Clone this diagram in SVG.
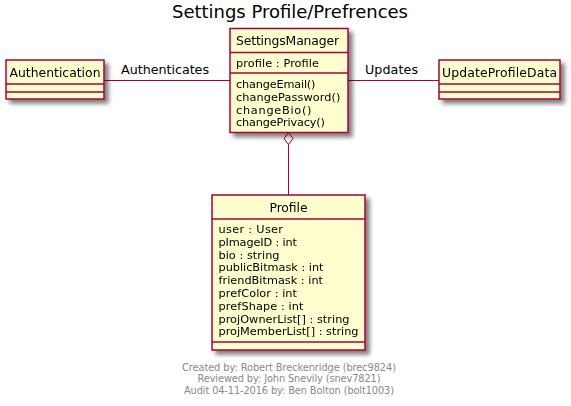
<svg xmlns="http://www.w3.org/2000/svg" width="571" height="406" viewBox="0 0 571 406">
<defs>
<filter id="sh" x="-10%" y="-10%" width="130%" height="130%">
<feGaussianBlur in="SourceAlpha" stdDeviation="2" result="b"/>
<feOffset in="b" dx="4" dy="4" result="o"/>
<feComponentTransfer in="o" result="c"><feFuncA type="linear" slope="0.5"/></feComponentTransfer>
<feMerge><feMergeNode in="c"/><feMergeNode in="SourceGraphic"/></feMerge>
</filter>
</defs>
<style>
.box{fill:#FEFECE;stroke:#A80036;stroke-width:1.5}
.sep{stroke:#A80036;stroke-width:1.5}
.edge{stroke:#A80036;stroke-width:1;fill:none}
text{font-family:"DejaVu Sans","Liberation Sans",sans-serif;fill:#000000}
.name{font-size:12.4px}
.attr{font-size:11.3px}
.lbl{font-size:12.7px}
.title{font-size:18px}
.foot{font-size:9.8px;fill:#888888}
</style>
<rect width="571" height="406" fill="#FFFFFF"/>
<text class="title" x="172" y="17.5" textLength="236" lengthAdjust="spacing">Settings Profile/Prefrences</text>

<g id="connectors">
<line class="edge" x1="104" y1="80.5" x2="230" y2="80.5"/>
<text class="lbl" x="121" y="73.5" textLength="88" lengthAdjust="spacing">Authenticates</text>
<line class="edge" x1="348" y1="80.5" x2="439" y2="80.5"/>
<text class="lbl" x="365" y="73.5" textLength="53" lengthAdjust="spacing">Updates</text>
<polygon class="edge" points="288.5,132.5 284,138.5 288.5,144.5 293,138.5" style="fill:#FFFFFF"/>
<line class="edge" x1="288.5" y1="144.5" x2="288.5" y2="195"/>
</g>

<g id="Authentication" filter="url(#sh)">
<rect class="box" x="6" y="60" width="98" height="39"/>
<line class="sep" x1="6" y1="84" x2="104" y2="84"/>
<line class="sep" x1="6" y1="92" x2="104" y2="92"/>
<text class="name" x="9.5" y="76.5" textLength="91" lengthAdjust="spacing">Authentication</text>
</g>

<g id="SettingsManager" filter="url(#sh)">
<rect class="box" x="230" y="28.5" width="118" height="104"/>
<line class="sep" x1="230" y1="52.5" x2="348" y2="52.5"/>
<line class="sep" x1="230" y1="73" x2="348" y2="73"/>
<text class="name" x="236" y="45" textLength="103" lengthAdjust="spacing">SettingsManager</text>
<text class="attr" x="236" y="66.5" textLength="83" lengthAdjust="spacing">profile : Profile</text>
<text class="attr" x="236" y="88" textLength="79.5" lengthAdjust="spacing">changeEmail()</text>
<text class="attr" x="236" y="100.8" textLength="104.5" lengthAdjust="spacing">changePassword()</text>
<text class="attr" x="236" y="113.6" textLength="75.5" lengthAdjust="spacing">changeBio()</text>
<text class="attr" x="236" y="126.4" textLength="89" lengthAdjust="spacing">changePrivacy()</text>
</g>

<g id="UpdateProfileData" filter="url(#sh)">
<rect class="box" x="439" y="60" width="121" height="39"/>
<line class="sep" x1="439" y1="84" x2="560" y2="84"/>
<line class="sep" x1="439" y1="92" x2="560" y2="92"/>
<text class="name" x="442" y="76.5" textLength="115" lengthAdjust="spacing">UpdateProfileData</text>
</g>

<g id="Profile" filter="url(#sh)">
<rect class="box" x="212" y="195" width="153" height="155"/>
<line class="sep" x1="212" y1="219" x2="365" y2="219"/>
<line class="sep" x1="212" y1="342" x2="365" y2="342"/>
<text class="name" x="269.5" y="212" textLength="38" lengthAdjust="spacing">Profile</text>
<text class="attr" x="218.5" y="233" textLength="64.5" lengthAdjust="spacing">user : User</text>
<text class="attr" x="218.5" y="245.8" textLength="78.5" lengthAdjust="spacing">pImageID : int</text>
<text class="attr" x="218.5" y="258.6" textLength="61" lengthAdjust="spacing">bio : string</text>
<text class="attr" x="218.5" y="271.4" textLength="105" lengthAdjust="spacing">publicBitmask : int</text>
<text class="attr" x="218.5" y="284.2" textLength="104.5" lengthAdjust="spacing">friendBitmask : int</text>
<text class="attr" x="218.5" y="297" textLength="78.5" lengthAdjust="spacing">prefColor : int</text>
<text class="attr" x="218.5" y="309.8" textLength="85" lengthAdjust="spacing">prefShape : int</text>
<text class="attr" x="218.5" y="322.6" textLength="131" lengthAdjust="spacing">projOwnerList[] : string</text>
<text class="attr" x="218.5" y="335.4" textLength="140" lengthAdjust="spacing">projMemberList[] : string</text>
</g>

<text class="foot" x="182" y="370.5" textLength="214" lengthAdjust="spacing">Created by: Robert Breckenridge (brec9824)</text>
<text class="foot" x="197.5" y="382" textLength="183" lengthAdjust="spacing">Reviewed by: John Snevily (snev7821)</text>
<text class="foot" x="184" y="393.5" textLength="210" lengthAdjust="spacing">Audit 04-11-2016 by: Ben Bolton (bolt1003)</text>
</svg>
